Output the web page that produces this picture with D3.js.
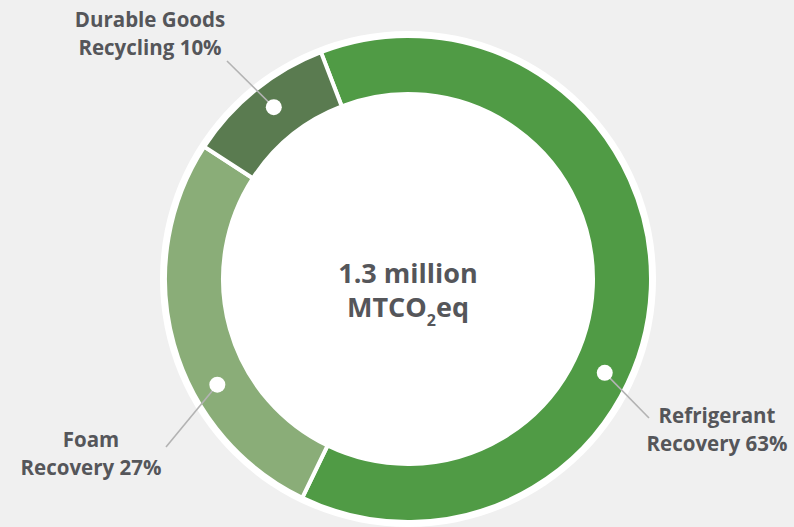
<!DOCTYPE html>
<html>
<head>
<meta charset="utf-8">
<script src="https://cdn.jsdelivr.net/npm/d3@7"></script>
<style>
  body { margin: 0; background: #f0f0f0; }
  text { font-family: "Open Sans", sans-serif; font-weight: 700; fill: #55565a; }
</style>
</head>
<body>
<div id="chart"></div>
<script>
/*
DATA
*/
const categories = ["Refrigerant Recovery", "Foam Recovery", "Durable Goods Recycling"];
const shares = [63, 27, 10];
const labelLines = [
	["Refrigerant", "Recovery 63%"],
	["Foam", "Recovery 27%"],
	["Durable Goods", "Recycling 10%"]
];
const colors = ["#509b45", "#8aad78", "#5a7b50"];

/*
SET UP
*/
const w = 794;
const h = 527;
const cx = 408;
const cy = 279;
const rOuter = 243;
const rInner = 185;

// where each dot sits (degrees, clockwise from 12 o'clock) and where its label goes
const dotAngle = [115.5, 241, 322];
const lineEnd = [[649, 418], [166, 447], [227, 61]];
const labelPos = [[717, 423], [91, 447], [150, 27]];

const svg = d3
	.select("#chart")
	.append("svg")
	.attr("width", w)
	.attr("height", h);

const g = svg.append("g").attr("transform", `translate(${cx},${cy})`);

// white halo + white centre
g.append("circle").attr("r", rOuter + 5).attr("fill", "#fff");

const startA = (-21 * Math.PI) / 180;
const pie = d3
	.pie()
	.sort(null)
	.startAngle(startA)
	.endAngle(startA + 2 * Math.PI);

const arc = d3.arc().innerRadius(rInner).outerRadius(rOuter);

const slices = pie(shares);

g.selectAll("path.slice")
	.data(slices)
	.join("path")
	.attr("class", "slice")
	.attr("d", arc)
	.attr("fill", (d, i) => colors[i])
	.attr("stroke", "#fff")
	.attr("stroke-width", 4);

/*
LEADERS & LABELS
*/
const rDot = (rInner + rOuter) / 2 + 4;
const dotXY = dotAngle.map((a) => {
	const t = (a * Math.PI) / 180;
	return [cx + rDot * Math.sin(t), cy - rDot * Math.cos(t)];
});

svg.selectAll("line.leader")
	.data(categories)
	.join("line")
	.attr("class", "leader")
	.attr("x1", (d, i) => dotXY[i][0])
	.attr("y1", (d, i) => dotXY[i][1])
	.attr("x2", (d, i) => lineEnd[i][0])
	.attr("y2", (d, i) => lineEnd[i][1])
	.attr("stroke", "#b3b3b3")
	.attr("stroke-width", 1.6);

svg.selectAll("circle.dot")
	.data(categories)
	.join("circle")
	.attr("class", "dot")
	.attr("cx", (d, i) => dotXY[i][0])
	.attr("cy", (d, i) => dotXY[i][1])
	.attr("r", 8)
	.attr("fill", "#fff");

const labels = svg.selectAll("text.label")
	.data(categories)
	.join("text")
	.attr("class", "label")
	.attr("text-anchor", "middle")
	.attr("font-size", 20.5)
	.attr("x", (d, i) => labelPos[i][0])
	.attr("y", (d, i) => labelPos[i][1]);

labels.selectAll("tspan")
	.data((d, i) => labelLines[i].map((t) => ({ t, x: labelPos[i][0] })))
	.join("tspan")
	.attr("x", (d) => d.x)
	.attr("dy", (d, j) => (j === 0 ? 0 : 27.5))
	.text((d) => d.t);

/*
CENTRE TEXT
*/
svg.append("text")
	.attr("text-anchor", "middle")
	.attr("font-size", 27)
	.attr("x", cx)
	.attr("y", 283)
	.text("1.3 million");

const l2 = svg.append("text")
	.attr("text-anchor", "middle")
	.attr("font-size", 27)
	.attr("x", cx)
	.attr("y", 317);
l2.append("tspan").text("MTCO");
l2.append("tspan").attr("font-size", 16).attr("dy", 9).text("2");
l2.append("tspan").attr("dy", -9).text("eq");
</script>
</body>
</html>
